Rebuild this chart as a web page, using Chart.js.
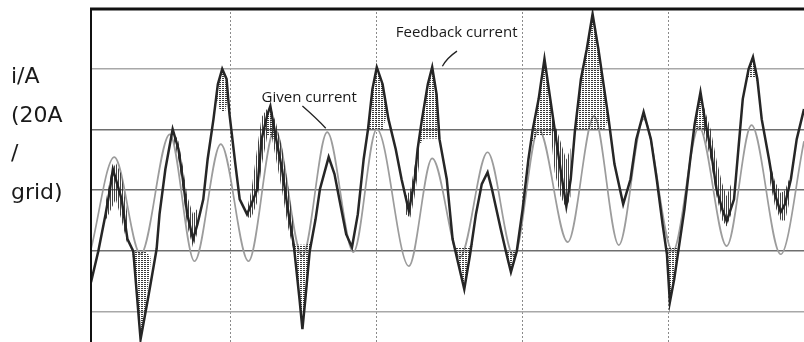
<!DOCTYPE html>
<html>
<head>
<meta charset="utf-8">
<title>Given and feedback current</title>
<script src="https://cdn.jsdelivr.net/npm/chart.js@4.4.1/dist/chart.umd.min.js"></script>
<style>
  html, body { margin: 0; padding: 0; background: #fff; }
  #wrap { width: 804px; height: 342px; }
</style>
</head>
<body>
<div id="wrap"><canvas id="chart" width="804" height="342"></canvas></div>
<script>
// Time in ms (10 ms per division), current in A (20 A per division).
// Given current: read at its peaks and troughs, smoothed by monotone interpolation.
const givenTime = [0.4, 2.0, 3.8, 5.8, 7.5, 9.3, 11.2, 13.0, 14.9, 16.6, 18.4, 20.0, 22.2, 23.8,
  25.7, 27.6, 29.4, 31.1, 33.1, 34.9, 36.6, 38.3, 40.3, 42.1, 44.0, 45.7, 47.7, 49.3];
const givenCurrent = [-19.4, 10.9, -21.1, 18.4, -23.4, 15.2, -23.4, 20.1, -21.7, 19.1, -20.4, 20.1, -25.0, 10.5,
  -22.1, 12.5, -21.7, 20.1, -17.1, 24.4, -18.1, 23.4, -20.1, 20.8, -18.4, 21.4, -21.1, 16.1];

// Feedback current: the measured trace
const feedbackTime = [0.4, 0.9, 1.4, 1.7, 1.9, 2.2, 2.5, 2.9, 3.3, 3.8, 4.3, 4.6, 4.9, 5.1, 5.5, 6.0,
  6.4, 6.7, 7.0, 7.4, 7.7, 8.1, 8.4, 8.8, 9.1, 9.4, 9.7, 9.9, 10.3, 10.6, 11.1, 11.4, 11.8, 12.1,
  12.5, 12.7, 13.1, 13.5, 13.9, 14.3, 14.7, 14.9, 15.1, 15.4, 15.8, 16.1, 16.7, 17.1, 17.5, 17.9,
  18.3, 18.7, 19.1, 19.4, 19.7, 20.0, 20.4, 20.8, 21.3, 21.7, 22.2, 22.6, 22.8, 23.1, 23.5, 23.8,
  24.1, 24.3, 24.8, 25.2, 25.6, 26.0, 26.4, 26.8, 27.2, 27.6, 27.9, 28.5, 28.9, 29.2, 29.6, 30.0,
  30.4, 30.7, 31.1, 31.5, 31.9, 32.2, 32.6, 33.0, 33.3, 33.6, 34.0, 34.4, 34.8, 35.2, 35.6, 35.9,
  36.3, 36.9, 37.4, 37.8, 38.3, 38.8, 39.2, 39.6, 39.9, 40.1, 40.4, 40.7, 41.1, 41.5, 41.8, 42.2,
  42.5, 42.9, 43.3, 43.7, 44.0, 44.5, 44.8, 45.1, 45.5, 45.8, 46.1, 46.4, 46.9, 47.3, 47.7, 48.0,
  48.4, 48.8, 49.3];
const feedbackCurrent = [-30.3, -20.1, -7.9, 0.3, 6.9, 2.0, -3.0, -16.1, -20.1, -49.1, -35.9, -27.7, -19.4, -7.9, 6.9, 20.1,
  13.5, 3.6, -7.9, -16.1, -11.2, -3.0, 10.2, 23.4, 34.9, 39.9, 36.6, 25.0, 8.6, -3.0, -7.9, -4.6, 0.3, 16.8,
  25.0, 27.7, 16.8, 6.9, -6.3, -17.8, -35.9, -45.8, -35.9, -20.1, -9.6, 0.3, 10.9, 5.3, -4.6, -14.5,
  -18.8, -7.9, 10.2, 20.1, 33.3, 40.5, 34.9, 23.4, 13.5, 3.6, -6.9, 3.6, 13.5, 23.4, 34.9, 40.5,
  31.6, 16.8, 3.6, -16.1, -24.4, -32.6, -21.1, -7.9, 2.0, 5.9, 0.3, -12.8, -21.1, -27.0, -20.1, -6.3,
  10.2, 20.1, 30.0, 43.2, 30.0, 20.1, 6.9, -5.3, 3.6, 20.1, 36.6, 46.4, 58.0, 46.4, 33.3, 23.4,
  8.6, -4.6, 3.6, 16.8, 25.7, 16.8, 3.6, -11.2, -21.1, -36.9, -29.3, -19.4, -6.3, 10.2, 21.7, 32.3,
  23.4, 13.5, 0.3, -6.3, -10.2, -3.0, 13.5, 30.0, 39.9, 43.8, 36.6, 23.4, 10.2, -1.3, -7.2, -4.6,
  3.6, 16.8, 26.7];

// Stippled ripple columns at the tips of the feedback trace (null = gap between columns)
const rippleTime = [3.2, 3.5, 3.8, 4.1, 4.5, null, 9.0, 9.2, 9.4, 9.6, 9.8, null,
  12.3, 12.5, 12.7, 12.9, 13.1, null, 14.3, 14.6, 14.9, 15.2, 15.5, null,
  19.4, 19.7, 20.0, 20.4, 20.7, null, 22.9, 23.3, 23.8, 24.1, 24.3, null,
  25.4, 25.8, 26.0, 26.3, 26.6, null, 28.8, 29.0, 29.2, 29.4, 29.7, null,
  30.5, 31.0, 31.5, 31.9, 32.2, null, 33.6, 34.0, 34.4, 34.8, 35.2, 35.6, 35.9, null,
  39.8, 40.0, 40.1, 40.4, 40.6, null, 41.7, 42.0, 42.2, 42.5, 42.8, null,
  45.4, 45.6, 45.8, 46.0, 46.2];
const rippleEdge = [-19, -32, -49, -40, -24, null, 31, 37, 39.9, 37, 30, null,
  21, 25, 27.7, 23, 17, null, -18, -32, -45.8, -33, -17, null,
  20, 33, 40.5, 35, 25, null, 15, 30, 40.5, 31.6, 17, null,
  -19, -29, -32.6, -25, -17, null, -20, -24, -27, -24, -19, null,
  15, 28, 43.2, 30, 20, null, 20, 36.6, 46.4, 58, 46.4, 33.3, 23.4, null,
  -19, -30, -36.9, -29, -19, null, 20, 28, 32.3, 24, 18, null,
  37, 42, 43.8, 40, 33];
const rippleBase = [-19, -20, -20, -20, -22, null, 31, 27, 26, 26, 30, null,
  21, 18, 18, 17, 17, null, -18, -18, -18, -18, -17, null,
  20, 20, 20, 20, 25, null, 15, 17, 17, 17, 17, null,
  -19, -19, -19, -19, -17, null, -20, -20, -20, -20, -19, null,
  15, 18, 18, 18, 20, null, 20, 20, 20, 20, 20, 20, 23.4, null,
  -19, -19, -19, -19, -19, null, 20, 20, 20, 20, 18, null,
  37, 37, 37, 37, 33];

// Dense switching jitter along the feedback trace: upper and lower envelope (null = gap)
const jitterTime = [1.4, 1.8, 2.1, 2.5, 2.9, null, 6.0, 6.4, 6.7, 7.0, 7.4, 7.7, null,
  11.1, 11.4, 11.8, 12.1, 12.5, null, 12.7, 13.1, 13.5, 13.9, 14.3, null,
  22.0, 22.3, 22.6, 22.9, null, 31.9, 32.2, 32.6, 33.0, 33.3, null,
  42.4, 42.9, 43.3, 43.7, 44.0, 44.3, null, 46.9, 47.3, 47.7, 48.0, 48.3];
const jitterUpper = [-4, 6, 9, 5, -8, null, 20.1, 16, 8, -2, -8, -6, null,
  -6, 0, 14, 24, 27, null, 27.7, 22, 14, 2, -12, null,
  -2, 0, 8, 16, null, 30, 22, 16, 10, 14, null,
  28, 20, 10, 2, -2, 2, null, 10, 3, -1, 0, 4];
const jitterLower = [-10, -6, -3, -10, -18, null, 18, 10, 0, -12, -19, -14, null,
  -9, -9, -4, 8, 18, null, 20, 10, 0, -12, -20, null,
  -8, -9, -2, 8, null, 20, 6, -2, -6, -2, null,
  20, 10, -2, -10, -12, -8, null, 4, -5, -10, -10, -4];

const xGrid = [10, 20, 30, 40];
const yGrid = [40, 20, 0, -20, -40];
const axisLabelLines = ['i/A', '(20A', '/', 'grid)'];
const givenLabel = 'Given current';
const feedbackLabel = 'Feedback current';

function toPoints(xs, ys) {
  return xs.map((t, k) => (t === null ? { x: xs[k - 1], y: null } : { x: t, y: ys[k] }));
}

// tiny tile patterns that imitate the scope's stippled and hatched trace
function makePattern(w, h, dotW, alpha) {
  const c = document.createElement('canvas');
  c.width = w;
  c.height = h;
  const g = c.getContext('2d');
  g.fillStyle = `rgba(35,35,35,${alpha})`;
  g.fillRect(0, 0, dotW, 1);
  return g.createPattern(c, 'repeat');
}

const overlay = {
  id: 'overlay',
  afterDraw(chart) {
    const { ctx, chartArea: a, scales: { x, y } } = chart;
    ctx.save();
    // heavy frame on top and left
    ctx.strokeStyle = '#111';
    ctx.lineWidth = 3;
    ctx.beginPath();
    ctx.moveTo(a.left - 1, a.top + 1);
    ctx.lineTo(a.right, a.top + 1);
    ctx.stroke();
    ctx.lineWidth = 2;
    ctx.beginPath();
    ctx.moveTo(a.left, a.top);
    ctx.lineTo(a.left, a.bottom);
    ctx.stroke();

    // y axis label, stacked
    ctx.fillStyle = '#1a1a1a';
    ctx.font = '22px "DejaVu Sans"';
    ctx.textBaseline = 'alphabetic';
    axisLabelLines.forEach((s, k) => ctx.fillText(s, 11, 83 + k * 38.7));

    // annotations
    ctx.font = '15px "Open Sans"';
    ctx.textBaseline = 'middle';
    ctx.fillText(givenLabel, x.getPixelForValue(12.1), y.getPixelForValue(30.6));
    ctx.fillText(feedbackLabel, x.getPixelForValue(21.3), y.getPixelForValue(51.7));

    ctx.strokeStyle = '#222';
    ctx.lineWidth = 1.3;
    ctx.beginPath();
    ctx.moveTo(x.getPixelForValue(14.9), y.getPixelForValue(27.7));
    ctx.quadraticCurveTo(x.getPixelForValue(15.9), y.getPixelForValue(23.5),
      x.getPixelForValue(16.5), y.getPixelForValue(20.4));
    ctx.stroke();
    ctx.beginPath();
    ctx.moveTo(x.getPixelForValue(25.5), y.getPixelForValue(45.8));
    ctx.quadraticCurveTo(x.getPixelForValue(24.8), y.getPixelForValue(43.5),
      x.getPixelForValue(24.5), y.getPixelForValue(40.8));
    ctx.stroke();
    ctx.restore();
  }
};

const ctx = document.getElementById('chart').getContext('2d');
new Chart(ctx, {
  type: 'line',
  data: {
    datasets: [
      {
        label: 'ripple',
        data: toPoints(rippleTime, rippleEdge),
        borderWidth: 0,
        pointRadius: 0,
        backgroundColor: makePattern(3, 2, 2, 0.9),
        fill: '+1',
        spanGaps: false,
      },
      {
        label: 'ripple base',
        data: toPoints(rippleTime, rippleBase),
        borderWidth: 0,
        pointRadius: 0,
        fill: false,
        spanGaps: false,
      },
      {
        label: 'jitter',
        data: toPoints(jitterTime, jitterUpper),
        borderWidth: 0,
        pointRadius: 0,
        backgroundColor: makePattern(2, 1, 1, 0.85),
        fill: '+1',
        spanGaps: false,
      },
      {
        label: 'jitter low',
        data: toPoints(jitterTime, jitterLower),
        borderWidth: 0,
        pointRadius: 0,
        fill: false,
        spanGaps: false,
      },
      {
        label: feedbackLabel,
        data: toPoints(feedbackTime, feedbackCurrent),
        borderColor: '#262626',
        borderWidth: 2.5,
        pointRadius: 0,
        tension: 0,
        fill: false,
      },
      {
        label: givenLabel,
        data: toPoints(givenTime, givenCurrent),
        borderColor: '#9c9c9c',
        borderWidth: 1.7,
        pointRadius: 0,
        cubicInterpolationMode: 'monotone',
        fill: false,
      },
    ],
  },
  options: {
    responsive: false,
    animation: false,
    layout: { padding: { left: 91, top: 8, right: 0, bottom: 0 } },
    plugins: { legend: { display: false }, tooltip: { enabled: false } },
    scales: {
      x: {
        type: 'linear',
        min: 0.4,
        max: 49.3,
        afterBuildTicks: (s) => { s.ticks = xGrid.map((v) => ({ value: v })); },
        ticks: { display: false },
        grid: { color: '#8a8a8a', lineWidth: 1, drawTicks: false },
        border: { display: false, dash: [2, 2] },
      },
      y: {
        min: -50,
        max: 60,
        afterBuildTicks: (s) => { s.ticks = yGrid.map((v) => ({ value: v })); },
        ticks: { display: false },
        grid: {
          color: (c) => (Math.abs(c.tick.value) === 40 ? '#a8a8a8' : '#6e6e6e'),
          lineWidth: 1.6,
          drawTicks: false,
        },
        border: { display: false },
      },
    },
  },
  plugins: [overlay],
});
</script>
</body>
</html>
